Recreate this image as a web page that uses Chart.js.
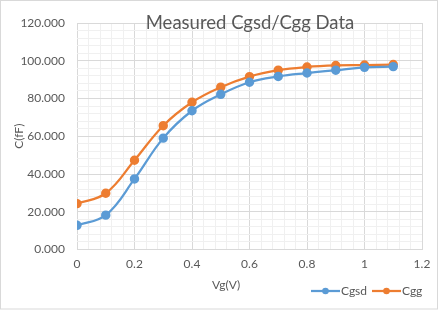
<!DOCTYPE html>
<html>
<head>
<meta charset="utf-8">
<script src="https://cdn.jsdelivr.net/npm/chart.js@4/dist/chart.umd.min.js"></script>
<style>
  html, body { margin: 0; padding: 0; background: #fff; }
  #wrap { position: relative; width: 441px; height: 332px; }
</style>
</head>
<body>
<div id="wrap"><canvas id="greatChart" width="441" height="332"></canvas></div>
<script>
var vgValues = [0, 0.1, 0.2, 0.3, 0.4, 0.5, 0.6, 0.7, 0.8, 0.9, 1.0, 1.1];
var cgsdValues = [12.8, 18.2, 37.4, 59.0, 73.5, 82.2, 88.6, 91.7, 93.5, 95.0, 96.5, 96.9];
var cggValues = [24.3, 29.8, 47.3, 65.6, 78.0, 86.0, 91.6, 95.0, 96.7, 97.5, 97.7, 98.0];
var seriesNames = ['Cgsd', 'Cgg'];
var seriesColors = ['#5b9bd5', '#ed7d31'];
var chartTitle = 'Measured Cgsd/Cgg Data';
var xTitle = 'Vg(V)';
var yTitle = 'C(fF)';

const fontFamily = 'Lato, "Open Sans", sans-serif';
const textColor = '#595959';

function toPoints(ys) {
    return vgValues.map((x, i) => ({ x: x, y: ys[i] }));
}

function isMajorX(v) { return Math.round(v * 100) % 20 === 0; }
function isMajorY(v) { return Math.round(v) % 20 === 0; }

// frame, title, x title and legend drawn around the library chart
const decorations = {
    id: 'decorations',
    beforeDraw(chart) {
        const ctx = chart.ctx;
        ctx.save();
        ctx.fillStyle = '#fff';
        ctx.fillRect(0, 0, chart.width, chart.height);
        ctx.strokeStyle = '#d9d9d9';
        ctx.lineWidth = 1;
        ctx.strokeRect(0.5, 0.5, 437, 308.5);
        ctx.restore();
    },
    afterDraw(chart) {
        const ctx = chart.ctx;
        ctx.save();
        ctx.fillStyle = textColor;
        ctx.font = '18.5px ' + fontFamily;
        ctx.textAlign = 'center';
        ctx.textBaseline = 'middle';
        ctx.fillText(chartTitle, 250, 23);

        ctx.font = '12px ' + fontFamily;
        ctx.fillText(xTitle, 226, 285);

        // legend
        ctx.textAlign = 'left';
        const legendY = 291;
        const starts = [311, 372];
        chart.data.datasets.forEach((ds, i) => {
            const x0 = starts[i];
            ctx.strokeStyle = ds.borderColor;
            ctx.lineWidth = 2.25;
            ctx.beginPath();
            ctx.moveTo(x0, legendY);
            ctx.lineTo(x0 + 29, legendY);
            ctx.stroke();
            ctx.fillStyle = ds.borderColor;
            ctx.beginPath();
            ctx.arc(x0 + 14.5, legendY, 3.3, 0, Math.PI * 2);
            ctx.fill();
            ctx.fillStyle = textColor;
            ctx.fillText(ds.label, x0 + 30, legendY);
        });
        ctx.restore();
    }
};

const dataToPlot = {
    datasets: seriesNames.map((name, i) => ({
        label: name,
        data: toPoints(i === 0 ? cgsdValues : cggValues),
        borderColor: seriesColors[i],
        backgroundColor: seriesColors[i],
        borderWidth: 2.25,
        pointRadius: 3.6,
        pointHoverRadius: 3.6,
        showLine: true,
        tension: 0.4
    }))
};

const options = {
    responsive: false,
    animation: false,
    layout: {
        padding: { left: 0, top: 23, right: 19, bottom: 33 }
    },
    plugins: {
        legend: { display: false },
        title: { display: false },
        tooltip: { enabled: false }
    },
    scales: {
        x: {
            type: 'linear',
            min: 0,
            max: 1.2,
            afterFit: function (scale) { scale.height = 332 - 249.5 - 33; },
            ticks: {
                stepSize: 0.04,
                autoSkip: false,
                maxRotation: 0,
                padding: 7,
                color: textColor,
                font: { family: fontFamily, size: 12 },
                callback: function (v) {
                    if (!isMajorX(v)) return '';
                    return String(Math.round(v * 10) / 10);
                }
            },
            grid: {
                color: function (c) { return isMajorX(c.tick.value) ? '#d9d9d9' : '#f0f0f0'; },
                drawTicks: false
            },
            border: { display: false }
        },
        y: {
            type: 'linear',
            min: 0,
            max: 120,
            afterFit: function (scale) { scale.width = 77; },
            ticks: {
                stepSize: 4,
                autoSkip: false,
                padding: 12,
                color: textColor,
                font: { family: fontFamily, size: 12 },
                callback: function (v) {
                    if (!isMajorY(v)) return '';
                    return v.toFixed(3);
                }
            },
            grid: {
                color: function (c) { return isMajorY(c.tick.value) ? '#d9d9d9' : '#f0f0f0'; },
                drawTicks: false
            },
            border: { display: false },
            title: {
                display: true,
                text: yTitle,
                color: textColor,
                font: { family: fontFamily, size: 12 },
                padding: { top: 12, bottom: 0 }
            }
        }
    }
};

const ctx = document.getElementById('greatChart').getContext('2d');
new Chart(ctx, {
    type: 'scatter',
    data: dataToPlot,
    options: options,
    plugins: [decorations]
});
</script>
</body>
</html>
